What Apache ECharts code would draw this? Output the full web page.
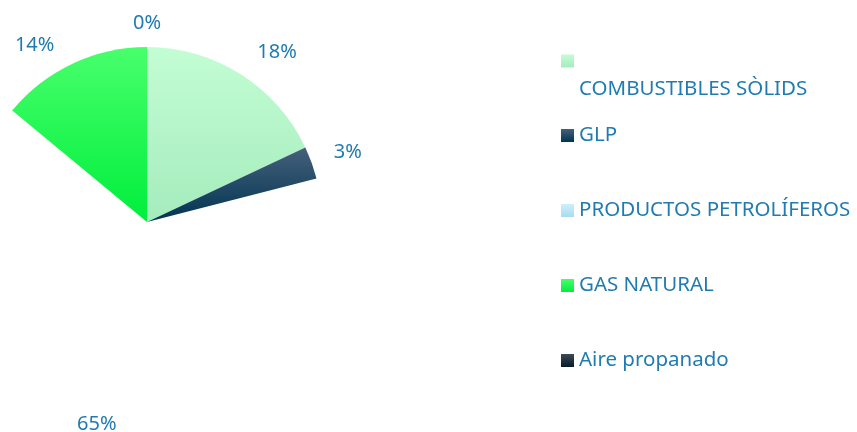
<!DOCTYPE html>
<html lang="es">
<head>
    <meta charset="UTF-8">
    <title>Consumo por combustible</title>
    <script type="text/javascript" src="https://cdn.jsdelivr.net/npm/echarts@6/dist/echarts.min.js"></script>
    <style>
        html, body { margin: 0; padding: 0; background: #fff; }
        #chart { width: 857px; height: 432px; }
    </style>
</head>
<body>
<div id="chart"></div>

<script type="text/javascript">
    // legend order (as in the original)
    var legendNames = ['COMBUSTIBLES SÒLIDS', 'GLP', 'PRODUCTOS PETROLÍFEROS', 'GAS NATURAL', 'Aire propanado'];
    // slice order clockwise from 12 o'clock, as drawn
    var sliceNames = ['COMBUSTIBLES SÒLIDS', 'GLP', 'Aire propanado', 'GAS NATURAL', 'PRODUCTOS PETROLÍFEROS'];
    var sliceValues = [18, 3, 65, 14, 0];

    var txtColor = '#1f7bb0';
    var font = 'Noto Sans';

    function grad(top, bottom) {
        return new echarts.graphic.LinearGradient(0, 0, 0, 1, [
            { offset: 0, color: top },
            { offset: 1, color: bottom }
        ]);
    }

    var colors = {
        'COMBUSTIBLES SÒLIDS': grad('#c3fdd3', '#a5ecbd'),
        'GLP': grad('#46607a', '#003452'),
        'PRODUCTOS PETROLÍFEROS': grad('#cdf0fc', '#a8dbef'),
        'GAS NATURAL': grad('#48ff6c', '#00ee3c'),
        'Aire propanado': grad('#3c4a56', '#081a2a')
    };

    var pieData = [];
    for (var i = 0; i < sliceNames.length; i++) {
        var n = sliceNames[i];
        pieData.push({
            name: n,
            value: sliceValues[i],
            // the big slice is not painted in the original
            itemStyle: { color: n == 'Aire propanado' ? 'rgba(0,0,0,0)' : colors[n] }
        });
    }

    var legendItems = legendNames.slice(1).map(function(n) {
        return { name: n, itemStyle: { color: colors[n] } };
    });

    var chart = echarts.init(document.getElementById('chart'));

    chart.setOption({
        animation: false,
        textStyle: { fontFamily: font },
        legend: [{
            // first entry: name sits one line below its swatch
            orient: 'vertical',
            left: 561,
            top: 5,
            padding: 0,
            icon: 'rect',
            itemWidth: 13,
            itemHeight: 13,
            selectedMode: false,
            data: [{ name: legendNames[0], itemStyle: { color: colors[legendNames[0]] } }],
            formatter: function(name) {
                return '\n' + name;
            },
            textStyle: { color: txtColor, fontFamily: font, fontSize: 20.5, lineHeight: 56 }
        }, {
            orient: 'vertical',
            left: 561,
            top: 125,
            padding: 0,
            icon: 'rect',
            itemWidth: 13,
            itemHeight: 13,
            itemGap: 54,
            selectedMode: false,
            data: legendItems,
            textStyle: { color: txtColor, fontFamily: font, fontSize: 20.5, lineHeight: 20 }
        }],
        series: [{
            type: 'pie',
            center: [147, 222],
            radius: 175,
            startAngle: 90,
            clockwise: true,
            silent: true,
            data: pieData,
            label: {
                show: true,
                position: 'outside',
                formatter: '{d}%',
                color: txtColor,
                fontFamily: font,
                fontSize: 20
            },
            labelLine: { show: false, length: 14, length2: 4 },
            labelLayout: function(p) {
                // labels sit fully outside the rim: above it in the top half, below in the bottom half
                if (p.dataIndex == 2) {
                    return { align: 'center', verticalAlign: 'top', dy: 8 };
                }
                if (p.dataIndex == 4) {
                    return { align: 'center', verticalAlign: 'bottom', dx: 9 };
                }
                if (p.dataIndex == 1) {
                    return { verticalAlign: 'middle', dy: -6 };
                }
                return { verticalAlign: 'bottom' };
            }
        }]
    });
</script>
</body>
</html>
